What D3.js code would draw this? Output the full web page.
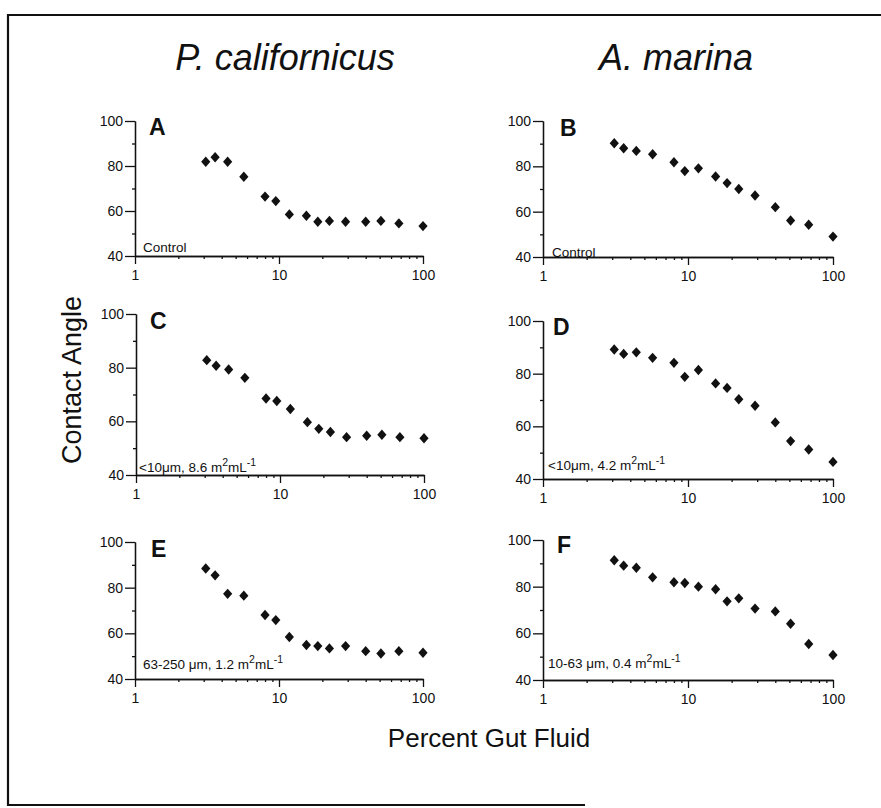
<!DOCTYPE html>
<meta charset="utf-8">
<style>
  body { margin: 0; background: white; }
  svg { font-family: "Liberation Sans", Arial, sans-serif; }
  .axis path, .axis line { stroke: #111; stroke-width: 1.3px; }
  .axis text { font-family: "Liberation Sans Narrow", "Liberation Sans", Arial, sans-serif; font-size: 14px; fill: #111; }
</style>
<svg width="881" height="808"></svg>
<script src="https://d3js.org/d3.v7.min.js"></script>
<script>

// percent gut fluid (x) shared by every panel
var percentGutFluid = [3.1, 3.6, 4.4, 5.7, 8, 9.5, 11.8, 15.5, 18.6, 22.4, 29, 40, 51, 68, 100];

// contact angle, one series per panel
var angleA = [81.9, 83.9, 81.9, 75.2, 66.4, 64.4, 58.5, 57.9, 55.2, 55.6, 55.2, 55.2, 55.6, 54.5, 53.3];
var angleB = [90.2, 88.0, 86.8, 85.3, 81.8, 77.9, 79.1, 75.5, 72.6, 70.0, 67.1, 62.0, 56.1, 54.2, 49.0];
var angleC = [82.8, 80.7, 79.3, 76.2, 68.5, 67.6, 64.6, 59.7, 57.2, 56.0, 54.1, 54.6, 55.0, 54.1, 53.7];
var angleD = [89.2, 87.5, 88.1, 86.0, 84.1, 78.8, 81.4, 76.3, 74.6, 70.3, 67.8, 61.5, 54.4, 51.2, 46.5];
var angleE = [88.4, 85.4, 77.3, 76.5, 68.0, 65.8, 58.4, 54.9, 54.4, 53.4, 54.4, 52.2, 51.2, 52.2, 51.5];
var angleF = [91.3, 89.0, 88.1, 84.0, 81.9, 81.6, 80.0, 78.9, 73.7, 75.0, 70.6, 69.4, 64.1, 55.4, 50.7];

var panelLetters = ["A", "B", "C", "D", "E", "F"];
// note text: [main, sup, middle, sup]
var panelNotes = [
  ["Control"],
  ["Control"],
  ["<10\u03bcm, 8.6 m", "2", "mL", "-1"],
  ["<10\u03bcm, 4.2 m", "2", "mL", "-1"],
  ["63-250 \u03bcm, 1.2 m", "2", "mL", "-1"],
  ["10-63 \u03bcm, 0.4 m", "2", "mL", "-1"]
];
var species = ["P. californicus", "A. marina"];
var xTicks = [1, 10, 100];
var xMinorTicks = [2, 3, 4, 5, 6, 7, 8, 9, 20, 30, 40, 50, 60, 70, 80, 90];
var yTicks = [40, 60, 80, 100];
var yMinorTicks = [50, 70, 90];

var series = [angleA, angleB, angleC, angleD, angleE, angleF];

// panel boxes on the page
var boxes = [
  {left: 135, right: 423, top: 121, bottom: 256, lx: 14, ly: 14},
  {left: 543, right: 833, top: 121, bottom: 257, lx: 17, ly: 15},
  {left: 136, right: 424, top: 314, bottom: 475, lx: 14, ly: 15},
  {left: 543, right: 833, top: 321, bottom: 479, lx: 10, ly: 14},
  {left: 135, right: 423, top: 542, bottom: 679, lx: 16, ly: 15},
  {left: 543, right: 833, top: 540, bottom: 680, lx: 14, ly: 13}
];
var noteOffsets = [
  {dx: 8, dy: -4}, {dx: 9, dy: 0},
  {dx: 3, dy: -3}, {dx: 5, dy: -9},
  {dx: 8, dy: -10}, {dx: 5, dy: -12}
];

var svg = d3.select("svg");

// frame
svg.append("path")
    .attr("d", "M881,15H8V805H585")
    .attr("fill", "none")
    .attr("stroke", "#111")
    .attr("stroke-width", 2.2);

var diamond = {
  draw: function(ctx, size) {
    var w = 4.6, h = 5.2;
    ctx.moveTo(0, -h); ctx.lineTo(w, 0); ctx.lineTo(0, h); ctx.lineTo(-w, 0); ctx.closePath();
  }
};

boxes.forEach(function(b, i) {
  var x = d3.scaleLog().domain([1, 100]).range([b.left, b.right]),
      y = d3.scaleLinear().domain([40, 100]).range([b.bottom, b.top]);

  var g = svg.append("g");

  g.append("g")
      .attr("class", "axis")
      .attr("transform", "translate(0," + b.bottom + ")")
      .call(d3.axisBottom(x).tickValues(xMinorTicks).tickSize(3).tickSizeOuter(0).tickFormat(""));

  g.append("g")
      .attr("class", "axis")
      .attr("transform", "translate(0," + b.bottom + ")")
      .call(d3.axisBottom(x).tickValues(xTicks).tickSize(8).tickSizeOuter(0).tickPadding(6)
        .tickFormat(d3.format("d")));

  g.append("g")
      .attr("class", "axis")
      .attr("transform", "translate(" + b.left + ",0)")
      .call(d3.axisLeft(y).tickValues(yMinorTicks).tickSize(3).tickSizeOuter(0).tickFormat(""));

  g.append("g")
      .attr("class", "axis")
      .attr("transform", "translate(" + b.left + ",0)")
      .call(d3.axisLeft(y).tickValues(yTicks).tickSize(10).tickSizeOuter(0).tickPadding(2));

  g.selectAll(".pt")
    .data(series[i])
    .enter().append("path")
      .attr("class", "pt")
      .attr("transform", function(d, j) { return "translate(" + x(percentGutFluid[j]) + "," + y(d) + ")"; })
      .attr("d", d3.symbol().type(diamond))
      .attr("fill", "#111");

  g.append("text")
      .attr("x", b.left + b.lx)
      .attr("y", b.top + b.ly)
      .attr("font-size", 23)
      .attr("font-weight", "bold")
      .attr("fill", "#111")
      .text(panelLetters[i]);

  var note = panelNotes[i],
      t = g.append("text")
        .attr("x", b.left + noteOffsets[i].dx)
        .attr("y", b.bottom + noteOffsets[i].dy)
        .attr("font-size", 13.5)
        .attr("fill", "#111");
  t.append("tspan").text(note[0]);
  if (note.length > 1) {
    t.append("tspan").attr("dy", -6).attr("font-size", 10.5).text(note[1]);
    t.append("tspan").attr("dy", 6).text(note[2]);
    t.append("tspan").attr("dy", -6).attr("font-size", 10.5).text(note[3]);
  }
});

// species titles
svg.append("text")
    .attr("x", 285).attr("y", 70)
    .attr("text-anchor", "middle")
    .attr("font-size", 36)
    .attr("font-style", "italic")
    .attr("fill", "#111")
    .text(species[0]);

svg.append("text")
    .attr("x", 676).attr("y", 70)
    .attr("text-anchor", "middle")
    .attr("font-size", 36)
    .attr("font-style", "italic")
    .attr("fill", "#111")
    .text(species[1]);

// axis titles
svg.append("text")
    .attr("transform", "translate(81,380) rotate(-90)")
    .attr("text-anchor", "middle")
    .attr("font-size", 27)
    .attr("fill", "#111")
    .text("Contact Angle");

svg.append("text")
    .attr("x", 489).attr("y", 747)
    .attr("text-anchor", "middle")
    .attr("font-size", 26)
    .attr("fill", "#111")
    .text("Percent Gut Fluid");

</script>
